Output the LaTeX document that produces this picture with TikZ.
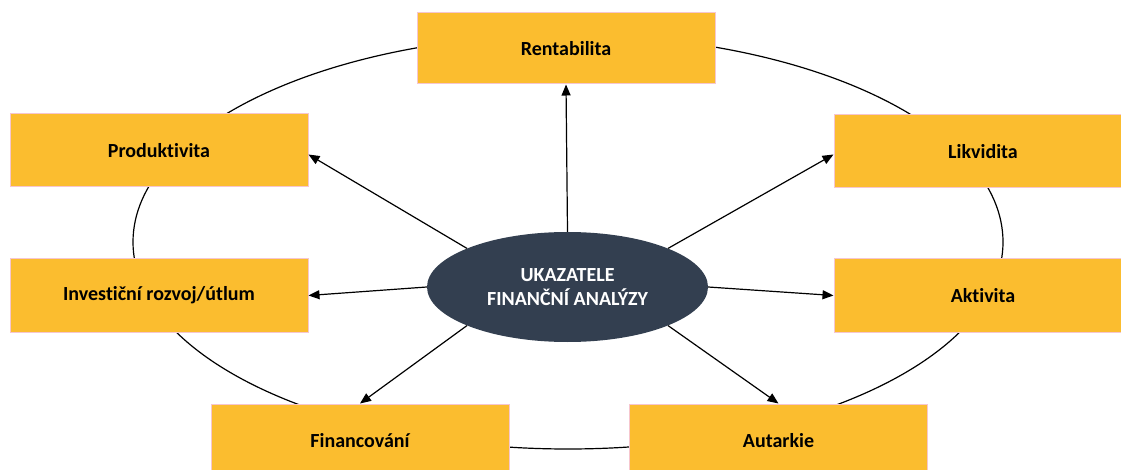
\documentclass[tikz,border=0pt]{standalone}
\usepackage{fontspec}
\setmainfont{Carlito}[Ligatures=NoCommon]
\usetikzlibrary{arrows.meta,shapes.geometric}
\definecolor{boxfill}{HTML}{FBBD2F}
\definecolor{boxline}{HTML}{F6C6CF}
\definecolor{hubfill}{HTML}{333F50}
\begin{document}
\begin{tikzpicture}[x=1pt,y=-1pt,
  box/.style={draw=boxline, line width=1pt, fill=boxfill, minimum width=298pt, minimum height=73pt,
    font=\bfseries\fontsize{20}{24}\selectfont, inner sep=0pt},
  hub/.style={ellipse, fill=hubfill, text=white, minimum width=281pt, minimum height=110pt,
    inner sep=0pt, align=center, font=\bfseries\fontsize{20}{24}\selectfont},
  link/.style={line width=1.2pt, -{Triangle[length=11pt,width=9pt]}},
  ring/.style={line width=1.2pt}]
\useasboundingbox (0,0) rectangle (1121,470);
\draw[ring] (568,242) ellipse [x radius=435pt, y radius=207pt];
\node[box, minimum height=71pt] (rent) at (566,48.5) {Rentabilita};
\node[box] (prod) at (159,150.5) {Produktivita};
\node[box] (inv) at (159,295.5) {Investiční rozvoj/útlum};
\node[box] (likv) at (983,151.5) {Likvidita};
\node[box] (akt) at (983,295.5) {Aktivita};
\node[box] (fin) at (360,440.5) {Financování};
\node[box] (aut) at (778.5,440.5) {Autarkie};
\node[hub] (c) at (567.5,287) {UKAZATELE\\FINANČNÍ ANALÝZY};
\draw[link] (c.90) -- (rent.south);
\draw[link] (c.159) -- ([yshift=-4pt]prod.east);
\draw[link] (c.180) -- (inv.east);
\draw[link] (c.201) -- (fin.north);
\draw[link] (c.21.5) -- ([yshift=-3pt]likv.west);
\draw[link] (c.0) -- (akt.west);
\draw[link] (c.-21) -- (aut.north);
\end{tikzpicture}
\end{document}
